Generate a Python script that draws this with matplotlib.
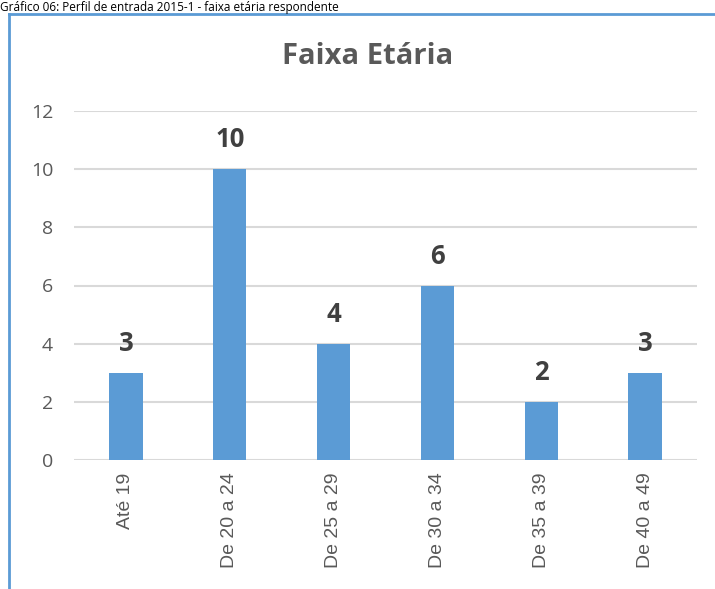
import matplotlib.pyplot as plt
from matplotlib.lines import Line2D

# Dados do gráfico
faixas = ['Até 19', 'De 20 a 24', 'De 25 a 29', 'De 30 a 34', 'De 35 a 39', 'De 40 a 49']
valores = [3, 10, 4, 6, 2, 3]
yticks = [0, 2, 4, 6, 8, 10, 12]

W, H = 715, 589
fig = plt.figure(figsize=(W / 100, H / 100), dpi=100)
fig.patch.set_facecolor('white')

# Área do gráfico (em pixels convertidos para fração)
x0, x1 = 74, 697
y_top, y_bot = 111, 460
ax = fig.add_axes([x0 / W, 1 - y_bot / H, (x1 - x0) / W, (y_bot - y_top) / H])

pos = range(len(faixas))
ax.bar(pos, valores, width=0.32, color='#5B9BD5', zorder=3)

ax.set_xlim(-0.5, len(faixas) - 0.5)
ax.set_ylim(0, 12)
ax.set_yticks(yticks)
ax.set_xticks(list(pos))
ax.set_xticklabels(faixas, rotation=90, fontsize=14, color='#595959',
                   family='Liberation Sans')
ax.set_yticklabels([str(t) for t in yticks], fontsize=14, color='#595959',
                   family='Open Sans')
ax.tick_params(axis='y', length=0, pad=15)
ax.tick_params(axis='x', length=0, pad=9)

ax.grid(axis='y', color='#D9D9D9', linewidth=1.5, zorder=0)
for s in ax.spines.values():
    s.set_visible(False)

# Rótulos de dados
for i, v in enumerate(valores):
    ax.text(i, v + 0.55, str(v), ha='center', va='bottom', fontsize=18.5,
            fontweight='bold', color='#404040', family='Open Sans')

# Título
fig.text(368 / W, 1 - 56 / H, 'Faixa Etária', ha='center', va='center',
         fontsize=21, fontweight='bold', color='#595959', family='Open Sans')

# Legenda do documento (no topo, acima da moldura)
fig.text(0, 1 - 1 / H, 'Gráfico 06: Perfil de entrada 2015-1 - faixa etária respondente',
         ha='left', va='top', fontsize=8.5, color='black', family='Open Sans')

# Moldura do gráfico
fig.add_artist(Line2D([9 / W, 1], [1 - 14 / H, 1 - 14 / H], color='#5B9BD5', linewidth=2,
                      transform=fig.transFigure))
fig.add_artist(Line2D([9 / W, 9 / W], [1 - 14 / H, 0], color='#5B9BD5', linewidth=2,
                      transform=fig.transFigure))

plt.savefig('out.png', dpi=100, facecolor='white')
plt.close()
